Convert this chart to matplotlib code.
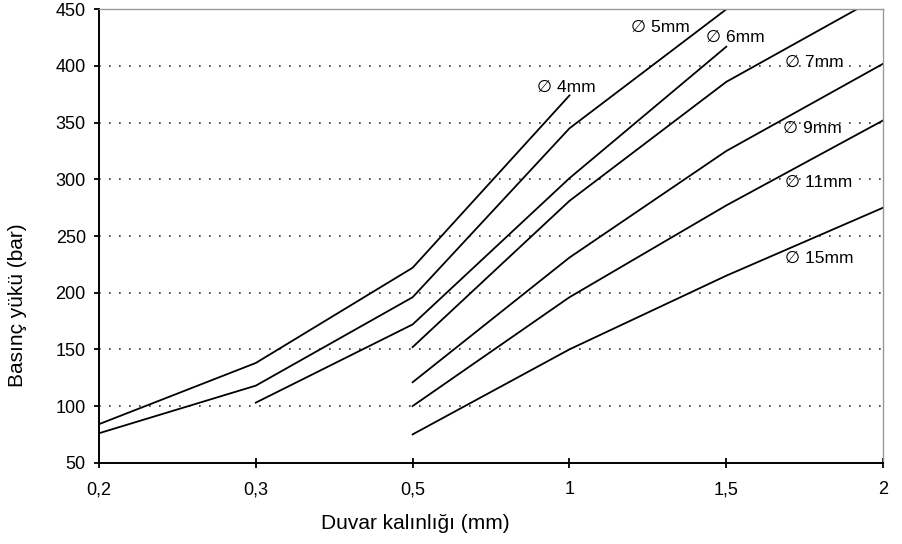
import numpy as np
import matplotlib
matplotlib.use('Agg')
from matplotlib import pyplot as plt

plt.rcParams['font.family'] = ['Liberation Sans', 'DejaVu Sans']

# wall thickness categories (equally spaced on the chart)
x_labels = ['0,2', '0,3', '0,5', '1', '1,5', '2']
nan = np.nan

# pressure load (bar) per tube diameter
d4 = [84, 138, 222, 374, nan, nan]
d5 = [76, 118, 196, 345, 450, nan]
d6 = [nan, 103, 172, 301, 417, nan]
d7 = [nan, nan, 152, 281, 386, 463]
d9 = [nan, nan, 121, 231, 325, 402]
d11 = [nan, nan, 100, 196, 277, 352]
d15 = [nan, nan, 75, 150, 215, 275]

series = [d4, d5, d6, d7, d9, d11, d15]
names = ['\u2205 4mm', '\u2205 5mm', '\u2205 6mm', '\u2205 7mm',
         '\u2205 9mm', '\u2205 11mm', '\u2205 15mm']

# label anchor positions (category index, bar)
label_x = [2.98, 3.58, 4.06, 4.56, 4.55, 4.59, 4.59]
label_y = [381, 434, 425, 403, 345, 297, 230]

fig = plt.figure(figsize=(9.03, 5.44), dpi=100)
ax = fig.add_axes([0.1096, 0.1494, 0.8684, 0.8335])

x = np.arange(len(x_labels))
for s in series:
    ax.plot(x, s, color='black', lw=1.3)

for name, lx, ly in zip(names, label_x, label_y):
    ax.text(lx, ly, name, ha='center', va='center', fontsize=12.5)

ax.set_xlim(0, 5)
ax.set_ylim(50, 450)
ax.set_xticks(x)
ax.set_xticklabels(x_labels)
ax.set_yticks(np.arange(50, 451, 50))

for yv in range(100, 401, 50):
    ax.axhline(yv, color='#333333', lw=1.2, ls=(0, (1, 5)), zorder=0)

ax.spines['left'].set_linewidth(1.4)
ax.spines['bottom'].set_linewidth(1.4)
ax.spines['top'].set_color('#999999')
ax.spines['right'].set_color('#999999')
ax.spines['top'].set_linewidth(1)
ax.spines['right'].set_linewidth(1)

ax.tick_params(axis='x', direction='inout', length=7, width=1.3, labelsize=13, pad=10)
ax.tick_params(axis='y', direction='out', length=3.5, width=1.3, labelsize=13, pad=6)

ax.set_xlabel('Duvar kalınlığı (mm)', fontsize=15)
ax.set_ylabel('Basınç yükü (bar)', fontsize=15)
ax.xaxis.set_label_coords(0.404, -0.113)
ax.yaxis.set_label_coords(-0.092, 0.348)

plt.savefig('out.png', dpi=100)
